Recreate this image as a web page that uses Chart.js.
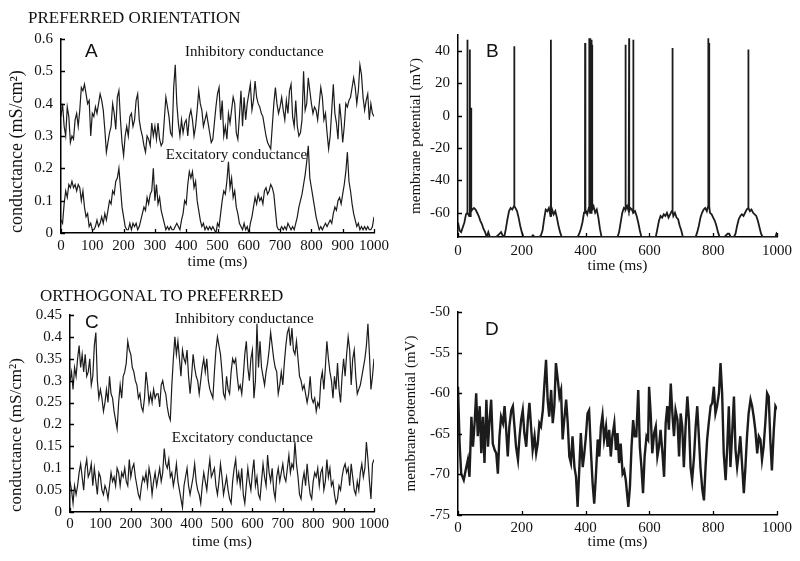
<!DOCTYPE html>
<html>
<head>
<meta charset="utf-8">
<script src="https://cdn.jsdelivr.net/npm/chart.js@4.4.1/dist/chart.umd.min.js"></script>
<style>
  body { margin: 0; background: #fff; }
  #fig { position: relative; width: 800px; height: 561px; overflow: hidden; background: #fff; }
  #fig canvas { position: absolute; }
  .hd { position: absolute; font: 17px "Liberation Serif", serif; line-height: 17px; color: #111; white-space: nowrap; }
</style>
</head>
<body>
<div id="fig">
  <canvas id="cA" width="400" height="262" style="left:0px;top:19px"></canvas>
  <canvas id="cB" width="405" height="266" style="left:398px;top:15px"></canvas>
  <canvas id="cC" width="400" height="266" style="left:0px;top:295px"></canvas>
  <canvas id="cD" width="405" height="269" style="left:398px;top:292px"></canvas>
  <div class="hd" style="left:28px;top:9px">PREFERRED ORIENTATION</div>
  <div class="hd" style="left:40px;top:287px">ORTHOGONAL TO PREFERRED</div>
</div>
<script>
// sampling step of the conductance / Vm traces (ms)
var step = 5;

// panel A - preferred orientation, conductances (mS/cm2), t = 0..1000 ms
var inhA = [
  0.36,0.40,0.33,0.30,0.39,0.36,0.28,0.30,0.29,0.35,
  0.37,0.33,0.38,0.45,0.44,0.46,0.43,0.40,0.41,0.30,
  0.37,0.36,0.39,0.37,0.40,0.43,0.41,0.38,0.32,0.25,
  0.28,0.31,0.33,0.40,0.37,0.32,0.42,0.44,0.35,0.28,
  0.24,0.30,0.33,0.30,0.36,0.37,0.33,0.35,0.41,0.43,
  0.35,0.32,0.30,0.27,0.25,0.30,0.29,0.27,0.34,0.30,
  0.33,0.29,0.34,0.29,0.27,0.28,0.35,0.42,0.39,0.36,
  0.31,0.30,0.45,0.52,0.40,0.34,0.30,0.35,0.31,0.34,
  0.35,0.30,0.36,0.38,0.35,0.30,0.33,0.38,0.44,0.40,
  0.38,0.33,0.35,0.37,0.34,0.31,0.28,0.29,0.34,0.39,
  0.43,0.45,0.35,0.41,0.30,0.33,0.29,0.37,0.34,0.38,
  0.42,0.40,0.31,0.29,0.36,0.44,0.33,0.42,0.35,0.40,
  0.43,0.46,0.38,0.41,0.47,0.42,0.40,0.39,0.37,0.36,
  0.33,0.30,0.28,0.27,0.26,0.33,0.40,0.45,0.40,0.37,
  0.39,0.42,0.38,0.35,0.41,0.37,0.44,0.46,0.36,0.33,
  0.41,0.33,0.30,0.31,0.35,0.50,0.38,0.40,0.48,0.44,
  0.40,0.37,0.39,0.38,0.35,0.40,0.45,0.42,0.35,0.37,
  0.31,0.26,0.30,0.38,0.46,0.37,0.34,0.29,0.40,0.35,
  0.28,0.33,0.40,0.39,0.41,0.42,0.45,0.48,0.45,0.40,
  0.44,0.52,0.49,0.42,0.38,0.41,0.43,0.35,0.40,0.37,
  0.36
];
var excA = [
  0.04,0.03,0.09,0.13,0.11,0.15,0.14,0.16,0.14,0.15,
  0.13,0.15,0.14,0.10,0.13,0.08,0.05,0.06,0.02,0.03,
  0.01,0.01,0.02,0.04,0.02,0.03,0.05,0.03,0.06,0.04,
  0.07,0.10,0.09,0.13,0.12,0.16,0.17,0.20,0.14,0.08,
  0.05,0.02,0.01,0.01,0.03,0.01,0.03,0.02,0.03,0.01,
  0.02,0.04,0.06,0.08,0.07,0.11,0.09,0.12,0.13,0.20,
  0.10,0.15,0.09,0.11,0.07,0.05,0.03,0.01,0.02,0.01,
  0.02,0.01,0.01,0.02,0.03,0.02,0.01,0.04,0.06,0.10,
  0.09,0.15,0.19,0.17,0.19,0.14,0.16,0.10,0.07,0.04,
  0.02,0.03,0.01,0.02,0.01,0.02,0.01,0.02,0.01,0.00,
  0.03,0.02,0.06,0.10,0.13,0.12,0.16,0.22,0.14,0.17,
  0.11,0.13,0.08,0.06,0.03,0.02,0.01,0.03,0.01,0.02,
  0.00,0.03,0.05,0.08,0.11,0.09,0.12,0.10,0.11,0.09,
  0.13,0.14,0.12,0.13,0.15,0.14,0.12,0.07,0.02,0.01,
  0.01,0.02,0.01,0.02,0.01,0.03,0.02,0.01,0.02,0.01,
  0.03,0.05,0.08,0.10,0.12,0.15,0.18,0.22,0.27,0.17,
  0.14,0.11,0.08,0.05,0.03,0.01,0.02,0.01,0.02,0.03,
  0.02,0.03,0.04,0.03,0.06,0.08,0.07,0.10,0.11,0.09,
  0.12,0.15,0.19,0.25,0.16,0.13,0.09,0.06,0.04,0.02,
  0.03,0.01,0.02,0.01,0.02,0.01,0.02,0.01,0.01,0.02,
  0.05
];

// panel B - membrane potential (mV): subthreshold trace + spikes
var vmB = [
  -66,-71,-72,-69,-66,-61,-60,-62,-59,-58,
  -57,-58,-60,-62,-65,-67,-70,-72,-75,-72,
  -75,-75,-75,-75,-75,-74,-73,-72,-74,-75,
  -70,-64,-59,-57,-58,-56,-57,-59,-63,-68,
  -72,-75,-75,-75,-75,-75,-75,-74,-75,-75,
  -75,-75,-74,-71,-64,-58,-59,-57,-62,-58,
  -61,-59,-63,-68,-72,-75,-75,-75,-75,-75,
  -75,-75,-75,-75,-75,-75,-73,-70,-66,-60,
  -58,-61,-57,-60,-58,-56,-60,-58,-63,-70,
  -75,-75,-75,-75,-75,-75,-75,-75,-75,-75,
  -75,-72,-66,-60,-57,-58,-56,-59,-57,-58,
  -60,-59,-62,-66,-71,-75,-75,-75,-75,-75,
  -75,-75,-75,-75,-75,-70,-65,-62,-63,-61,
  -62,-60,-63,-61,-59,-62,-60,-63,-64,-68,
  -71,-75,-75,-75,-75,-75,-75,-75,-75,-75,
  -72,-68,-63,-60,-58,-57,-59,-56,-60,-61,
  -63,-65,-68,-72,-75,-75,-75,-75,-74,-73,
  -73,-75,-75,-75,-73,-68,-64,-62,-61,-62,
  -60,-58,-57,-59,-58,-60,-61,-62,-65,-69,
  -73,-75,-75,-75,-75,-75,-75,-75,-75,-75,
  -72
];
var spikeT = [29, 37, 41, 176, 291, 398, 411, 414, 417, 420, 525, 536, 549, 672, 784, 787, 910];
var spikePk = [47, 41, 5, 43, 47, 45, 48, 48, 47, 44, 44, 48, 47, 42, 48, 45, 41];
var yTicksB = [-60, -40, -20, 0, 20, 40];

// panel C - orthogonal orientation, conductances (mS/cm2)
var inhC = [
  0.30,0.32,0.28,0.33,0.31,0.35,0.38,0.33,0.36,0.32,
  0.36,0.31,0.32,0.35,0.29,0.31,0.38,0.41,0.30,0.26,
  0.28,0.26,0.23,0.25,0.28,0.25,0.31,0.27,0.26,0.23,
  0.21,0.19,0.25,0.29,0.26,0.31,0.32,0.34,0.39,0.37,
  0.36,0.33,0.32,0.30,0.29,0.26,0.27,0.24,0.23,0.26,
  0.32,0.29,0.25,0.27,0.25,0.28,0.26,0.27,0.27,0.24,
  0.29,0.30,0.28,0.27,0.24,0.22,0.21,0.29,0.35,0.40,
  0.36,0.39,0.35,0.31,0.37,0.35,0.34,0.37,0.31,0.27,
  0.31,0.36,0.33,0.31,0.30,0.27,0.30,0.33,0.35,0.32,
  0.35,0.30,0.28,0.27,0.26,0.32,0.37,0.40,0.38,0.36,
  0.32,0.27,0.26,0.31,0.28,0.27,0.32,0.35,0.34,0.35,
  0.31,0.28,0.29,0.27,0.31,0.36,0.39,0.33,0.30,0.35,
  0.37,0.26,0.30,0.43,0.33,0.39,0.33,0.31,0.29,0.32,
  0.34,0.37,0.41,0.38,0.35,0.33,0.32,0.27,0.29,0.32,
  0.29,0.34,0.38,0.41,0.42,0.38,0.42,0.37,0.36,0.39,
  0.35,0.31,0.30,0.28,0.29,0.27,0.25,0.27,0.31,0.26,
  0.25,0.26,0.23,0.25,0.24,0.30,0.32,0.28,0.33,0.39,
  0.35,0.32,0.30,0.26,0.31,0.28,0.34,0.28,0.25,0.31,
  0.35,0.31,0.36,0.40,0.37,0.29,0.35,0.37,0.31,0.27,
  0.28,0.29,0.31,0.33,0.35,0.38,0.43,0.36,0.28,0.31,
  0.35
];
var excC = [
  0.07,0.05,0.02,0.06,0.04,0.06,0.09,0.11,0.08,0.05,
  0.10,0.12,0.08,0.09,0.11,0.06,0.10,0.07,0.04,0.09,
  0.08,0.05,0.04,0.06,0.05,0.03,0.06,0.09,0.07,0.08,
  0.06,0.10,0.09,0.06,0.09,0.08,0.10,0.07,0.06,0.12,
  0.08,0.10,0.11,0.08,0.06,0.04,0.03,0.06,0.08,0.07,
  0.09,0.06,0.10,0.08,0.04,0.07,0.09,0.06,0.08,0.10,
  0.07,0.09,0.145,0.11,0.10,0.12,0.08,0.09,0.06,0.08,
  0.11,0.07,0.05,0.03,0.01,0.06,0.08,0.10,0.06,0.04,
  0.06,0.08,0.11,0.07,0.05,0.04,0.02,0.06,0.09,0.07,
  0.05,0.09,0.12,0.08,0.09,0.10,0.06,0.04,0.07,0.11,
  0.08,0.04,0.06,0.08,0.05,0.03,0.02,0.07,0.10,0.12,
  0.07,0.09,0.06,0.10,0.04,0.02,0.06,0.10,0.07,0.05,
  0.09,0.12,0.06,0.08,0.04,0.03,0.07,0.11,0.08,0.06,
  0.13,0.09,0.07,0.10,0.05,0.03,0.08,0.10,0.07,0.09,
  0.11,0.08,0.07,0.10,0.13,0.09,0.11,0.10,0.16,0.11,
  0.08,0.04,0.03,0.07,0.09,0.06,0.11,0.07,0.04,0.03,
  0.07,0.09,0.08,0.10,0.06,0.09,0.10,0.05,0.07,0.12,
  0.08,0.10,0.06,0.07,0.04,0.02,0.03,0.06,0.05,0.08,
  0.10,0.11,0.09,0.10,0.06,0.11,0.08,0.05,0.04,0.07,
  0.05,0.09,0.11,0.08,0.10,0.16,0.12,0.07,0.03,0.11,
  0.12
];

var timeD = [
  0,5,10,18,24,31,36,42,47,52, 57,62,68,73,78,83,89,94,99,104,
  109,115,120,125,130,135,141,146,151,156, 161,167,172,177,182,188,193,198,203,208,
  214,219,224,229,234,240,245,250,255,260, 266,271,276,281,286,292,297,302,307,313,
  318,323,328,333,339,344,349,354,359,365, 370,375,380,385,391,396,401,406,411,417,
  422,427,432,438,443,448,453,458,464,469, 474,479,484,490,495,500,505,510,516,521,
  526,531,534,539,544,549,554,559,565,570, 575,580,585,591,596,599,604,609,615,620,
  625,630,635,641,646,651,656,661,667,672, 677,682,688,693,698,703,708,714,719,724,
  729,734,740,745,750,755,760,766,771,776, 781,786,792,797,802,807,812,818,823,828,
  833,839,844,849,854,859,865,870,875,880, 885,891,896,901,906,911,917,922,927,932,
  938,943,948,953,958,964,969,974,979,984, 990,995,1000
];
var vmD = [
  -59.2,-66.2,-69.9,-70.7,-69.5,-68.2,-70.3,-62.9,-66.6,-63.7,
  -60.0,-65.3,-61.6,-67.4,-62.9,-68.6,-60.8,-66.6,-63.3,-60.8,
  -66.2,-67.0,-67.4,-69.9,-65.3,-62.9,-63.7,-61.6,-64.5,-67.8,
  -64.1,-62.1,-61.6,-64.1,-66.6,-68.2,-65.3,-63.3,-62.1,-64.9,
  -66.6,-63.3,-61.2,-64.1,-67.0,-65.3,-67.4,-66.2,-63.7,-64.1,
  -62.1,-58.8,-55.9,-60.8,-62.9,-59.6,-63.7,-61.6,-56.3,-58.4,
  -60.4,-59.6,-65.7,-63.3,-60.8,-63.7,-67.8,-68.6,-65.3,-69.1,
  -70.3,-74.0,-69.5,-64.9,-69.1,-67.4,-65.3,-62.5,-62.1,-67.4,
  -71.1,-73.6,-70.3,-65.7,-67.8,-64.1,-62.7,-65.7,-64.1,-66.6,
  -64.5,-67.8,-65.3,-63.7,-67.0,-64.9,-68.6,-66.2,-69.9,-69.5,
  -70.7,-72.8,-74.0,-71.5,-66.6,-63.3,-65.3,-65.3,-59.6,-66.6,
  -69.1,-72.3,-67.8,-65.3,-65.7,-59.2,-62.5,-67.4,-64.9,-64.1,
  -67.8,-66.6,-64.5,-67.4,-70.3,-63.7,-61.6,-64.5,-58.8,-62.5,
  -65.3,-62.1,-63.3,-67.8,-62.5,-64.1,-69.1,-63.7,-60.4,-63.3,
  -69.1,-70.7,-67.8,-64.1,-61.6,-65.3,-69.1,-71.9,-73.2,-69.1,
  -65.7,-63.7,-61.6,-61.2,-59.2,-62.5,-61.6,-60.0,-56.3,-60.0,
  -67.4,-70.7,-66.6,-61.6,-69.1,-65.3,-60.4,-67.0,-69.1,-67.4,
  -65.3,-69.1,-72.3,-69.1,-65.3,-62.5,-60.8,-61.6,-62.9,-64.5,
  -67.4,-65.3,-65.7,-68.2,-66.6,-63.3,-60.0,-60.4,-65.7,-69.5,
  -64.5,-61.6,-62.0
];

var ink = '#111';
var serif = 'Liberation Serif';

function grid(vals) {
  return vals.map(function (v, i) { return { x: i * step, y: v }; });
}

// B: subthreshold trace with the spikes put in as near-vertical strokes
var bPts = grid(vmB);
spikeT.forEach(function (t, k) {
  var base = vmB[Math.round(t / step)];
  bPts.push({ x: t, y: base }, { x: t + 0.4, y: spikePk[k] }, { x: t + 0.8, y: base });
});
bPts.sort(function (a, b) { return a.x - b.x; });

var dPts = timeD.map(function (t, i) { return { x: t, y: vmD[i] }; });

// inward tick marks + in-panel labels
var panelMarks = {
  id: 'panelMarks',
  afterDraw: function (chart, args, opts) {
    var ctx = chart.ctx, a = chart.chartArea;
    var xs = chart.scales.x, ys = chart.scales.y;
    ctx.save();
    ctx.strokeStyle = '#000';
    ctx.lineWidth = 1.3;
    ctx.beginPath();
    xs.ticks.forEach(function (t) {
      var px = Math.round(xs.getPixelForValue(t.value)) + 0.5;
      ctx.moveTo(px, a.bottom); ctx.lineTo(px, a.bottom - 4);
    });
    ys.ticks.forEach(function (t) {
      var py = Math.round(ys.getPixelForValue(t.value)) + 0.5;
      ctx.moveTo(a.left, py); ctx.lineTo(a.left + 4, py);
    });
    ctx.stroke();
    ctx.fillStyle = ink;
    ctx.textBaseline = 'alphabetic';
    ctx.textAlign = 'left';
    (opts.notes || []).forEach(function (n) {
      ctx.font = n.font;
      ctx.fillText(n.text, xs.getPixelForValue(n.x), ys.getPixelForValue(n.y));
    });
    ctx.restore();
  }
};

function trace(points, width) {
  return { data: points, borderColor: '#1c1c1c', borderWidth: width, pointRadius: 0, tension: 0, fill: false };
}

function plain(v) { return String(+Number(v).toFixed(2)); }

function panel(id, datasets, o) {
  return new Chart(document.getElementById(id), {
    type: 'line',
    data: { datasets: datasets },
    options: {
      responsive: false,
      animation: false,
      events: [],
      layout: { padding: { top: 20, right: 26, bottom: 0, left: 0 } },
      plugins: {
        legend: { display: false },
        tooltip: { enabled: false },
        panelMarks: { notes: o.notes }
      },
      scales: {
        x: {
          type: 'linear', min: 0, max: 1000,
          grid: { display: false, drawTicks: false },
          border: { display: true, color: '#000', width: 1.5 },
          ticks: { stepSize: o.xStep, autoSkip: false, maxRotation: 0, padding: o.xPad,
                   color: ink, font: { family: serif, size: 15 }, callback: plain },
          title: { display: true, text: 'time (ms)', color: ink,
                   font: { family: serif, size: 15.5 }, padding: { top: 0, bottom: o.xTitlePad } },
          afterFit: function (s) { s.height = o.xH; }
        },
        y: {
          type: 'linear', min: o.yMin, max: o.yMax,
          grid: { display: false, drawTicks: false },
          border: { display: true, color: '#000', width: 1.5 },
          ticks: { stepSize: o.yStep, padding: 8, color: ink, font: { family: serif, size: 15 },
                   callback: plain },
          afterBuildTicks: o.yTicks ? function (s) {
            s.ticks = o.yTicks.map(function (v) { return { value: v }; });
          } : undefined,
          title: { display: true, text: o.yTitle, color: ink, align: o.yTitleAlign || 'center',
                   font: { family: serif, size: o.yTitleSize }, padding: { top: o.yTitlePad, bottom: 0 } },
          afterFit: function (s) { s.width = o.yW; }
        }
      }
    },
    plugins: [panelMarks]
  });
}

var letterFont = '19px "Liberation Sans", Arial, sans-serif';
var noteFont = '15px "Liberation Serif", serif';

panel('cA', [trace(grid(inhA), 1.2), trace(grid(excA), 1.2)], {
  xStep: 100, xPad: 4, xH: 48, xTitlePad: 9.4,
  yMin: 0, yMax: 0.6, yStep: 0.1, yW: 61,
  yTitle: 'conductance (mS/cm²)', yTitleSize: 18, yTitlePad: 6.2, yTitleAlign: 'start',
  notes: [
    { text: 'A', x: 77, y: 0.544, font: letterFont },
    { text: 'Inhibitory conductance', x: 396, y: 0.547, font: noteFont },
    { text: 'Excitatory conductance', x: 335, y: 0.229, font: noteFont }
  ]
});

panel('cB', [trace(bPts, 1.8)], {
  xStep: 200, xPad: 5, xH: 44, xTitlePad: 5.7,
  yMin: -75, yMax: 50, yTicks: yTicksB, yW: 60,
  yTitle: 'membrane potential (mV)', yTitleSize: 15, yTitlePad: 9,
  notes: [
    { text: 'B', x: 88, y: 36.3, font: letterFont }
  ]
});

panel('cC', [trace(grid(inhC), 1.2), trace(grid(excC), 1.2)], {
  xStep: 100, xPad: 3, xH: 49, xTitlePad: 9.7,
  yMin: 0, yMax: 0.45, yStep: 0.05, yW: 70,
  yTitle: 'conductance (mS/cm²)', yTitleSize: 17, yTitlePad: 6.3, yTitleAlign: 'start',
  notes: [
    { text: 'C', x: 49, y: 0.42, font: letterFont },
    { text: 'Inhibitory conductance', x: 345, y: 0.432, font: noteFont },
    { text: 'Excitatory conductance', x: 335, y: 0.16, font: noteFont }
  ]
});

panel('cD', [trace(dPts, 2.4)], {
  xStep: 200, xPad: 4, xH: 46, xTitlePad: 9.7,
  yMin: -75, yMax: -50, yStep: 5, yW: 60,
  yTitle: 'membrane potential (mV)', yTitleSize: 15, yTitlePad: 4.5,
  notes: [
    { text: 'D', x: 85, y: -52.8, font: letterFont }
  ]
});
</script>
</body>
</html>
